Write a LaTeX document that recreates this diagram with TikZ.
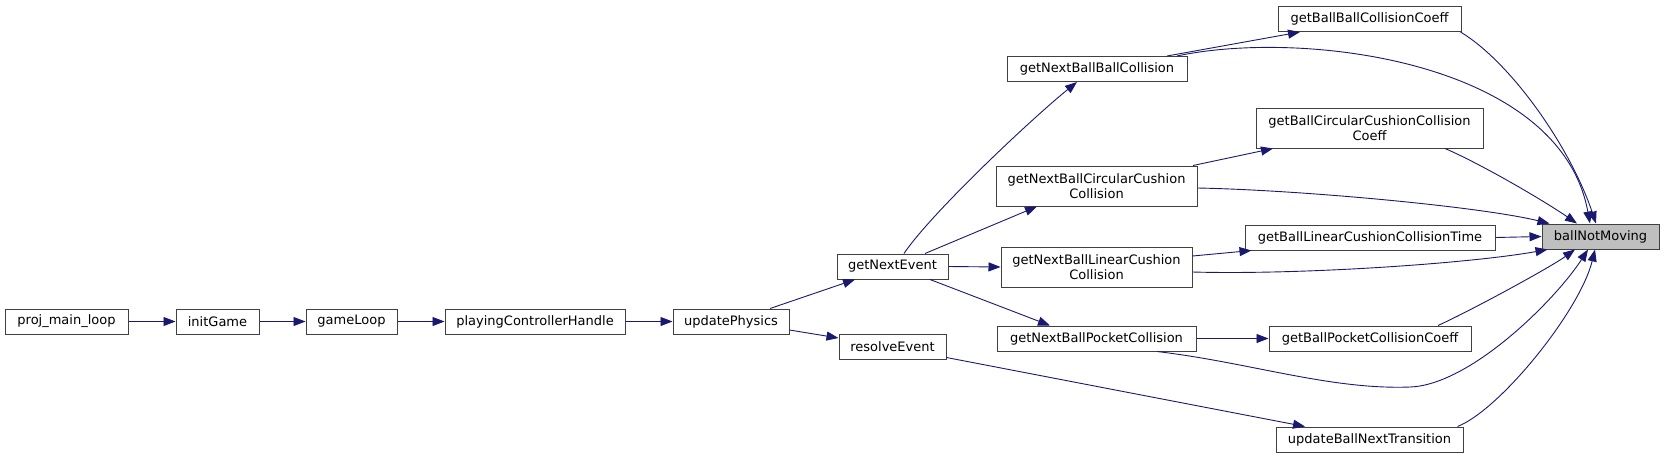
\documentclass[tikz,border=0pt]{standalone}
\usepackage{fontspec}
\setmainfont{DejaVu Sans}
\usetikzlibrary{arrows.meta,calc}
\definecolor{edgeblue}{HTML}{191970}
\definecolor{nodeborder}{HTML}{404040}
\definecolor{rootfill}{HTML}{BFBFBF}
\begin{document}
\begin{tikzpicture}[x=1pt,y=-1pt,
  fn/.style={draw=nodeborder, line width=1pt, fill=white, inner sep=0pt,
    minimum height=25pt, font=\fontsize{13}{15}\selectfont, align=center},
  fntwo/.style={fn, minimum height=40pt},
  root/.style={fn, fill=rootfill},
  call/.style={draw=edgeblue, line width=0.9pt, -{Triangle[length=12pt,width=9pt]}}
]
\fill[white] (0,0) rectangle (1665,459);
\useasboundingbox (0,0) rectangle (1665,459);

% nodes
\node[fn, minimum width=123pt] (pml) at (66.5,321.5) {proj\_main\_loop};
\node[fn, minimum width=83pt] (ig) at (217.5,321.5) {initGame};
\node[fn, minimum width=91pt] (gl) at (351.5,321.5) {gameLoop};
\node[fn, minimum width=180pt] (pch) at (535,321.5) {playingControllerHandle};
\node[fn, minimum width=116pt] (up) at (731,321.5) {updatePhysics};
\node[fn, minimum width=111pt] (gne) at (892.5,266.5) {getNextEvent};
\node[fn, minimum width=107pt] (re) at (892.5,346.5) {resolveEvent};
\node[fn, minimum width=180pt] (nbb) at (1097,69) {getNextBallBallCollision};
\node[fntwo, minimum width=201pt] (nbcc) at (1096.5,186) {getNextBallCircularCushion\\Collision};
\node[fntwo, minimum width=191pt] (nblc) at (1096.5,267) {getNextBallLinearCushion\\Collision};
\node[fn, minimum width=199pt] (nbp) at (1096.5,338.5) {getNextBallPocketCollision};
\node[fn, minimum width=183pt] (bbc) at (1369.5,19) {getBallBallCollisionCoeff};
\node[fntwo, minimum width=227pt] (bccc) at (1369.5,128) {getBallCircularCushionCollision\\Coeff};
\node[fn, minimum width=250pt] (blct) at (1370,237.5) {getBallLinearCushionCollisionTime};
\node[fn, minimum width=202pt] (bpc) at (1370,338.5) {getBallPocketCollisionCoeff};
\node[fn, minimum width=187pt] (ubnt) at (1369.5,439.5) {updateBallNextTransition};
\node[root, minimum width=117pt] (bnm) at (1600.5,236.5) {ballNotMoving};
\coordinate (dip) at (1410,387);

% edges
\draw[call] (pml.east) -- (ig.west);
\draw[call] (ig.east) -- (gl.west);
\draw[call] (gl.east) -- (pch.west);
\draw[call] (pch.east) -- (up.west);
\draw[call] ($(up.north)+(39,0)$) -- ($(gne.south)+(-37.5,0)$);
\draw[call] ($(up.east)+(0,8.5)$) -- ($(re.west)+(0,-8.5)$);

\draw[call] ($(gne.north)+(11.5,0)$) .. controls +(26,-39) and +(-47,38) .. ($(nbb.south)+(-20,0)$);
\draw[call] ($(gne.north)+(32.5,0)$) -- ($(nbcc.south)+(-59.5,0)$);
\draw[call] (gne.east) -- (nblc.west);
\draw[call] ($(gne.south)+(37.5,0)$) -- ($(nbp.north)+(-46.5,0)$);
\draw[call] ($(re.south east)+(0,-2)$) -- ($(ubnt.north)+(-64.5,0)$);

\draw[call] ($(nbb.north)+(70,0)$) -- ($(bbc.south)+(-69.5,0)$);
\draw[call] ($(nbb.north)+(80,0)$) .. controls +(123,-26.5) and +(-30,-164) .. ($(bnm.north)+(-10.5,0)$);
\draw[call] ($(nbcc.north)+(96.5,0)$) -- ($(bccc.south)+(-96.5,0)$);
\draw[call] ($(nbcc.east)+(0,2)$) .. controls +(103,2) and +(-70,-17) .. ($(bnm.north west)+(8,0)$);
\draw[call] ($(nblc.east)+(0,-11)$) -- ($(blct.south west)+(7,0)$);
\draw[call] ($(nblc.east)+(0,5)$) .. controls +(108,3) and +(-78,14) .. ($(bnm.south west)+(6,0)$);
\draw[call] (nbp.east) -- (bpc.west);
\draw[call] ($(nbp.south)+(60.5,0)$) .. controls +(93,11) and +(-80,3) .. (dip)
   .. controls +(60,-2) and +(-33,51) .. ($(bnm.south)+(-12.5,0)$);

\draw[call] ($(bbc.south east)+(-1,0)$) .. controls +(50,30) and +(-26,-77) .. ($(bnm.north)+(-4.5,0)$);
\draw[call] ($(bccc.south)+(75.5,0)$) .. controls +(35,15) and +(-35,-24) .. ($(bnm.north)+(-23.5,0)$);
\draw[call] (blct.east) -- (bnm.west);
\draw[call] ($(bpc.north)+(68,0)$) .. controls +(35,-16) and +(-25,18) .. ($(bnm.south)+(-25.5,0)$);
\draw[call] ($(ubnt.north east)+(-6,0)$) .. controls +(43,-17) and +(-15,61) .. ($(bnm.south)+(-5.5,0)$);
\end{tikzpicture}
\end{document}
